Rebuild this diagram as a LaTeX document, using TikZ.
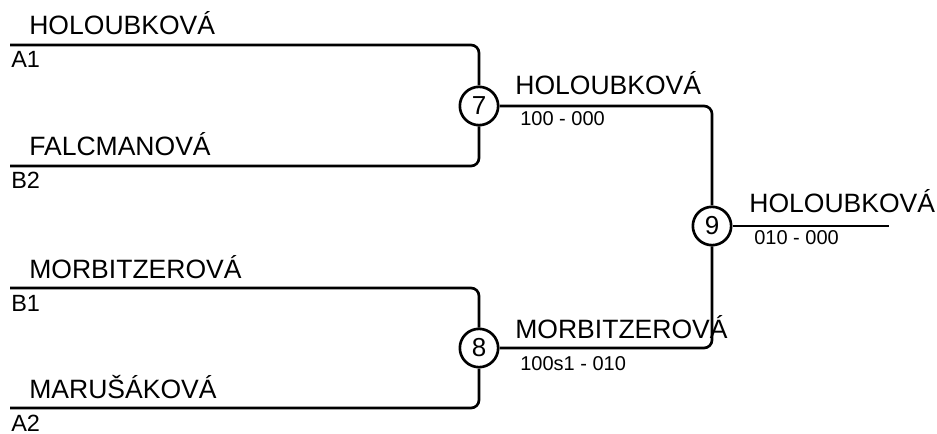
\documentclass[tikz,border=0pt]{standalone}
\usepackage{fontspec}
\setmainfont{Liberation Sans}
\begin{document}
\begin{tikzpicture}[x=0.75pt,y=-0.75pt,line width=2pt,
	big/.style={font=\fontsize{19.9}{22}\selectfont,inner sep=0pt,anchor=base west},
	seed/.style={font=\fontsize{17.6}{20}\selectfont,inner sep=0pt,anchor=base west},
	score/.style={font=\fontsize{15}{18}\selectfont,inner sep=0pt,anchor=base west},
	match/.style={draw,circle,minimum size=28.75pt,inner sep=0pt,fill=white,font=\fontsize{19.5}{22}\selectfont},
	bracket/.style={rounded corners=6pt}]
			\useasboundingbox (0,0) rectangle (937,434);
			\foreach\i/\y/\n/\s in {1/45/HOLOUBKOVÁ/A1,2/166/FALCMANOVÁ/B2,3/288/MORBITZEROVÁ/B1,4/408/MARUŠÁKOVÁ/A2}{
				\coordinate (p\i) at (10,\y);
				\node[big] (n\i) at (28,\y-10){\n};
				\node[seed] (s\i) at (10,\y+23){\s};
			}
			\node[match] (m7) at (479,106){7};
			\node[match] (m8) at (479,348){8};
			\node[match] (m9) at (712,226){9};
			\coordinate (w) at (889,226);
			\draw[bracket] (p1) -| (m7);
			\draw[bracket] (p2) -| (m7);
			\draw[bracket] (p3) -| (m8);
			\draw[bracket] (p4) -| (m8);
			\draw[bracket] (m7) -| (m9);
			\draw[bracket] (m8) -| (m9);
			\draw[] (m9) to (w);
%			winners and scores
			\node[big] (r7) at (514,95){HOLOUBKOVÁ};
			\node[score] (c7) at (519,126){100 - 000};
			\node[big] (r8) at (514,338){MORBITZEROVÁ};
			\node[score] (c8) at (519,370){100s1 - 010};
			\node[big] (r9) at (748,213){HOLOUBKOVÁ};
			\node[score] (c9) at (753,245){010 - 000};
		\end{tikzpicture}
\end{document}
